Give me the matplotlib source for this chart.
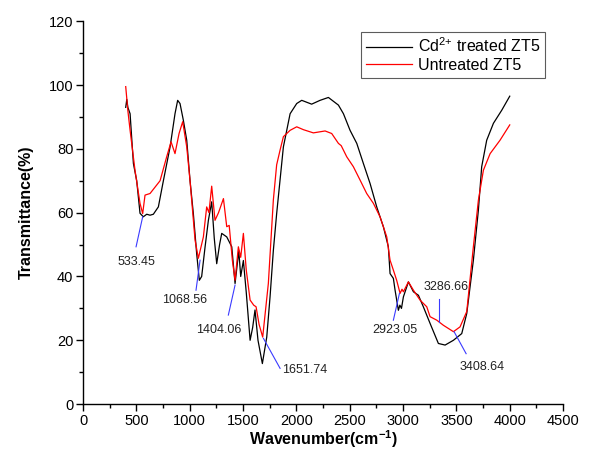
import matplotlib
matplotlib.use("Agg")
import matplotlib.pyplot as plt
from matplotlib.ticker import MultipleLocator

plt.rcParams['font.family'] = ['Liberation Sans', 'DejaVu Sans']
plt.rcParams['mathtext.fontset'] = 'custom'
plt.rcParams['mathtext.rm'] = 'Liberation Sans'
plt.rcParams['mathtext.it'] = 'Liberation Sans:italic'
plt.rcParams['mathtext.bf'] = 'Liberation Sans:bold'

# Cd2+ treated ZT5 (black)
cd_x = [400, 410, 420, 441, 472, 503, 534, 565, 597, 628, 659, 706, 753, 816, 862, 887, 909,
        940, 972, 1003, 1034, 1065, 1090, 1112, 1144, 1175, 1206, 1230, 1253, 1280, 1300, 1347,
        1394, 1425, 1460, 1478, 1503, 1530, 1566, 1590, 1612, 1640, 1681, 1722, 1753, 1784,
        1815, 1878, 1941, 2003, 2050, 2143, 2222, 2300, 2394, 2441, 2503, 2566, 2628, 2691,
        2753, 2816, 2862, 2878, 2909, 2925, 2956, 2970, 2985, 3003, 3050, 3097, 3144, 3190,
        3253, 3331, 3394, 3472, 3550, 3597, 3659, 3706, 3737, 3784, 3847, 3925, 4000]
cd_y = [93, 95.5, 93, 91, 75.4, 70, 59.8, 58.7, 59.5, 59.2, 59.5, 61.8, 70, 80.6, 91, 95.2, 94.2,
        89, 82.7, 70, 59.7, 47.2, 38.8, 40, 49.3, 57.6, 63.4, 52, 44, 50, 53.5, 52.4,
        49.3, 37.8, 48, 40, 45, 35, 20, 24, 29.5, 20, 12.7, 21, 33.6, 48.2,
        59.7, 80.6, 91, 94.2, 95.2, 94, 95.2, 96.1, 93.7, 91, 85.8, 81.7, 75.4, 69.1,
        61.8, 55.5, 49.3, 40.9, 39.4, 35.7, 29.4, 31, 30, 33.6, 38.3, 35.2, 34.1, 30.5,
        25.3, 19, 18.5, 20, 22.1, 28.4, 45.1, 60.8, 74.4, 82.7, 88, 92.1, 96.5]

# Untreated ZT5 (red)
un_x = [400, 420, 441, 487, 534, 559, 581, 628, 675, 722, 784, 825, 862, 900, 934, 972, 1003,
        1050, 1081, 1128, 1159, 1180, 1206, 1237, 1270, 1316, 1347, 1370, 1400, 1425, 1456,
        1478, 1503, 1530, 1566, 1600, 1622, 1650, 1684, 1737, 1784, 1815, 1847, 1878, 1941,
        2003, 2066, 2159, 2269, 2331, 2394, 2420, 2472, 2534, 2597, 2659, 2722, 2784, 2847,
        2878, 2909, 2940, 2972, 2990, 3003, 3050, 3097, 3159, 3222, 3253, 3316, 3378, 3472,
        3534, 3597, 3659, 3706, 3753, 3816, 3909, 4000]
un_y = [99.5, 92, 85.8, 73.3, 62.9, 59.7, 65.5, 66, 68, 70, 77.5, 82.2, 78.5, 84.8, 88.5, 80.6, 70,
        51.4, 45.7, 52.4, 61.8, 60, 68.3, 57.6, 60, 64.4, 55.6, 56, 45, 38.8, 49.3,
        46, 53.5, 42, 32.6, 31, 30.5, 25, 21, 37.8, 64, 75, 79.6, 83.8, 85.8,
        86.9, 86, 85, 85.6, 84.8, 81.7, 81, 77.5, 74.4, 70.2, 66, 62.9, 58.7, 52.4,
        45.1, 42, 38.8, 34.7, 36, 35.2, 38.3, 35.7, 32.6, 30.5, 27.4, 26.3, 24.7, 22.7,
        24.2, 29, 49.3, 63.9, 73.3, 78.5, 82.7, 87.5]

# Peak annotations: label, line start (x, y), line end (x, y), text anchor (x, y), alignment
ann_labels = ['533.45', '1068.56', '1404.06', '1651.74', '2923.05', '3286.66', '3408.64']
ann_start = [(559, 58.7), (1097, 45.1), (1425, 37.3), (1691, 20.6), (2966, 34.7), (3341, 32.8), (3478, 22.7)]
ann_end = [(497, 49.3), (1059, 35.7), (1362, 27.9), (1847, 11.2), (2909, 26.3), (3341, 25.8), (3591, 15.8)]
ann_text = [(503, 44.5), (956, 32.6), (1269, 23.2), (1870, 10.7), (2925, 23.2), (3403, 36.8), (3738, 11.5)]
ann_ha = ['center', 'center', 'center', 'left', 'center', 'center', 'center']

fig = plt.figure(figsize=(5.89, 4.51), dpi=100)
ax = fig.add_axes([0.141, 0.104, 0.815, 0.849])

ax.plot(cd_x, cd_y, color='black', lw=0.9, label=r'Cd$^{2{+}}$ treated ZT5')
ax.plot(un_x, un_y, color='red', lw=0.9, label='Untreated ZT5')

for lab, s, e, t, ha in zip(ann_labels, ann_start, ann_end, ann_text, ann_ha):
    ax.plot([s[0], e[0]], [s[1], e[1]], color='#3a3aff', lw=0.8)
    ax.text(t[0], t[1], lab, ha=ha, va='center', fontsize=9, color='#222222')

ax.set_xlim(0, 4500)
ax.set_ylim(0, 120)
ax.xaxis.set_major_locator(MultipleLocator(500))
ax.xaxis.set_minor_locator(MultipleLocator(250))
ax.yaxis.set_major_locator(MultipleLocator(20))
ax.yaxis.set_minor_locator(MultipleLocator(10))
ax.spines['top'].set_visible(False)
ax.spines['right'].set_visible(False)
ax.spines['left'].set_linewidth(1.0)
ax.spines['bottom'].set_linewidth(1.0)
ax.tick_params(which='major', direction='out', length=5, width=1.0, labelsize=10.5, pad=2)
ax.tick_params(which='minor', direction='out', length=3, width=1.0)

ax.set_xlabel(r'Wavenumber(cm$^{\mathbf{{-}1}}$)', fontsize=11.5, fontweight='bold', labelpad=0)
ax.set_ylabel('Transmittance(%)', fontsize=11.5, fontweight='bold', labelpad=11)

leg = ax.legend(loc='upper right', bbox_to_anchor=(0.9625, 0.972), fontsize=11.5, frameon=True,
                fancybox=False, edgecolor='#333333', handlelength=2.9, borderpad=0.3,
                labelspacing=0.15, handletextpad=0.35, borderaxespad=0)
leg.get_frame().set_linewidth(0.8)

fig.savefig('out.png', dpi=100)
